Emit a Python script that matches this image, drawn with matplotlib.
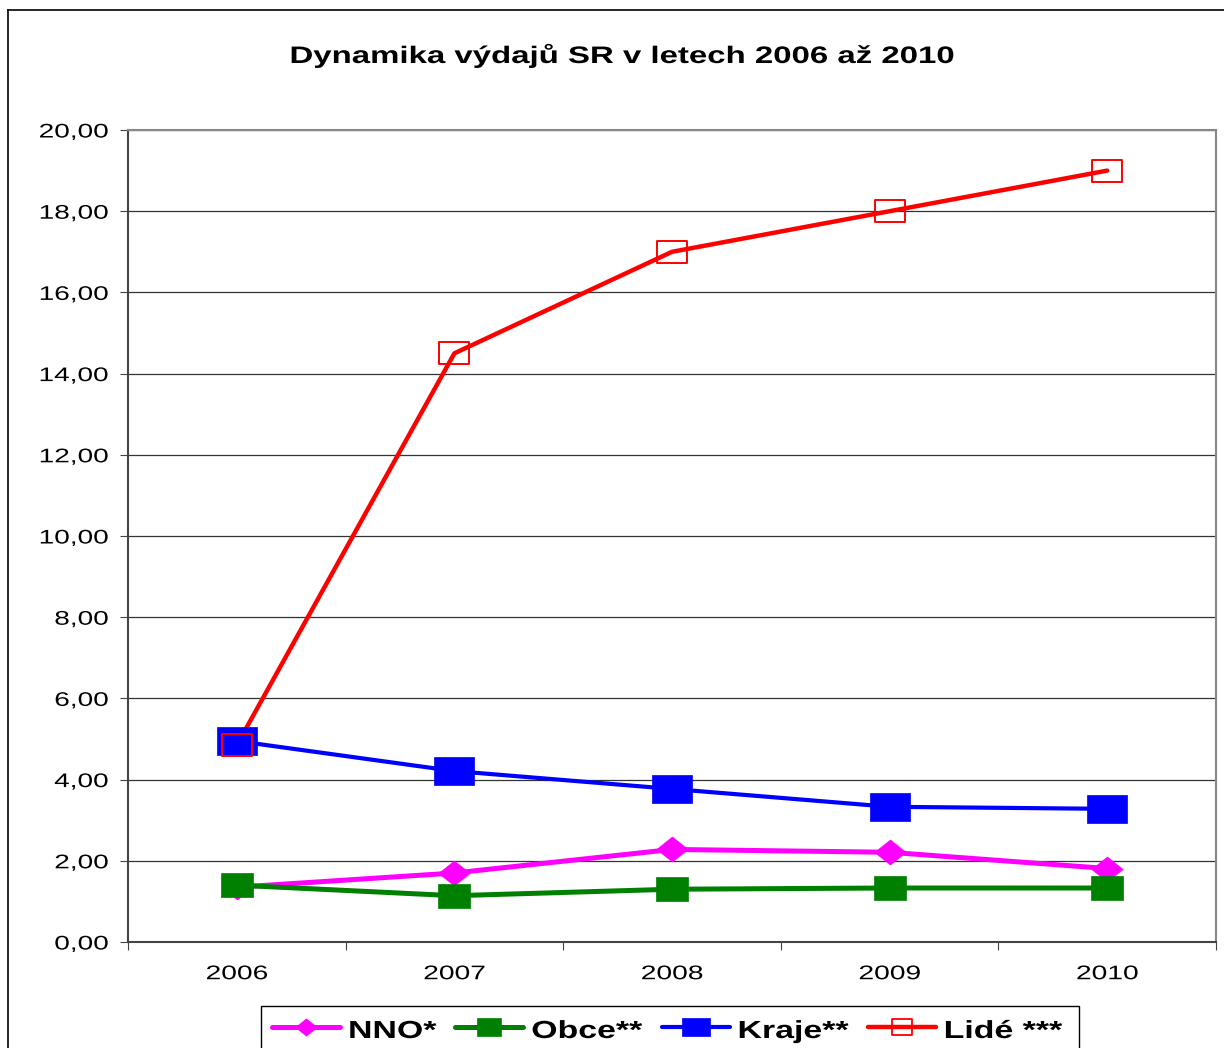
import matplotlib
matplotlib.use("Agg")
import matplotlib.pyplot as plt
from matplotlib.path import Path
from matplotlib.lines import Line2D
from matplotlib.patches import Rectangle
from matplotlib.patheffects import AbstractPathEffect
from matplotlib.transforms import Affine2D
import numpy as np

years = ["2006", "2007", "2008", "2009", "2010"]
nno = [1.35, 1.70, 2.28, 2.21, 1.81]
obce = [1.40, 1.14, 1.30, 1.33, 1.33]
kraje = [4.95, 4.21, 3.77, 3.33, 3.28]
lide = [4.85, 14.5, 17.0, 18.0, 19.0]
labels = ["NNO*", "Obce**", "Kraje**", "Lidé ***"]
title = "Dynamika výdajů SR v letech 2006 až 2010"

plt.rcParams['font.family'] = ['Liberation Sans', 'DejaVu Sans']


class HStretch(AbstractPathEffect):
    """Widen a text path horizontally about an anchor (text stays real text)."""
    def __init__(self, sx, anchor='center'):
        super().__init__()
        self.sx = sx
        self.anchor = anchor

    def draw_path(self, renderer, gc, tpath, affine, rgbFace=None):
        v = tpath.vertices
        if v is None or len(v) == 0:
            return
        tv = affine.transform(v)
        x0, x1 = tv[:, 0].min(), tv[:, 0].max()
        cx = {'center': 0.5 * (x0 + x1), 'left': x0, 'right': x1}[self.anchor]
        aff = affine + Affine2D().translate(-cx, 0).scale(self.sx, 1).translate(cx, 0)
        renderer.draw_path(gc, tpath, aff, rgbFace)


W, H = 1224, 1048
fig = plt.figure(figsize=(W / 100, H / 100), dpi=100)

# outer chart border (left and top visible)
fig.add_artist(Line2D([8 / W, 8 / W], [0, 1 - 10 / H], transform=fig.transFigure, color='black', lw=1.2))
fig.add_artist(Line2D([8 / W, 1], [1 - 10 / H, 1 - 10 / H], transform=fig.transFigure, color='black', lw=1.2))

ax = fig.add_axes([128 / W, 1 - 942 / H, (1216 - 128) / W, (942 - 130) / H])


def rect(w, h):
    return Path([(-w, -h), (w, -h), (w, h), (-w, h), (-w, -h)],
                [Path.MOVETO, Path.LINETO, Path.LINETO, Path.LINETO, Path.CLOSEPOLY])


diamond = Path([(0, -0.8), (1.0, 0), (0, 0.8), (-1.0, 0), (0, -0.8)],
               [Path.MOVETO, Path.LINETO, Path.LINETO, Path.LINETO, Path.CLOSEPOLY])

x = np.arange(len(years))
# name, values, colour, marker, size(pt), filled, linewidth, legend marker size
series = [
    (labels[0], nno, "#FF00FF", diamond, 22.5, True, 3.6, 15.5),
    (labels[1], obce, "#008000", rect(1.0, 0.73), 23.5, True, 3.6, 17.0),
    (labels[2], kraje, "#0000FF", rect(1.0, 0.68), 29.0, True, 3.0, 20.0),
    (labels[3], lide, "#FF0000", rect(1.0, 0.77), 21.0, False, 3.2, 15.0),
]

for name, vals, col, mk, ms, filled, lw, lms in series:
    ax.plot(x, vals, color=col, lw=lw, zorder=2, solid_capstyle='round')
for i, (name, vals, col, mk, ms, filled, lw, lms) in enumerate(series):
    ax.plot(x, vals, ls='none', marker=mk, markersize=ms,
            markerfacecolor=(col if filled else 'none'),
            markeredgecolor=col, markeredgewidth=(0.5 if filled else 1.4), zorder=3 + i)

ax.set_xlim(-0.5, 4.5)
ax.set_ylim(0, 20)
yt = np.arange(0, 21, 2)
ax.set_yticks(yt)
ax.set_yticklabels([f"{v:.2f}".replace('.', ',') for v in yt], fontsize=14.2)
ax.yaxis.grid(True, color='#333333', lw=0.9)
ax.set_axisbelow(True)

ax.set_xticks(np.arange(-0.5, 5, 1))
ax.set_xticklabels([])
ax.set_xticks(x, minor=True)
ax.set_xticklabels(years, minor=True, fontsize=14.2)
ax.tick_params(axis='x', which='minor', length=0, pad=16)
ax.tick_params(axis='x', which='major', length=6, direction='out', color='#444444')
ax.tick_params(axis='y', length=6, direction='out', color='#444444', pad=8)

for s in ['left', 'bottom']:
    ax.spines[s].set_color('#444444')
    ax.spines[s].set_linewidth(1.5)
for s in ['top', 'right']:
    ax.spines[s].set_color('#888888')
    ax.spines[s].set_linewidth(1.5)

for t in ax.get_yticklabels():
    t.set_path_effects([HStretch(1.42, 'right')])
for t in ax.get_xticklabels(minor=True):
    t.set_path_effects([HStretch(1.43, 'center')])

t_title = fig.text(622 / W, 1 - 63 / H, title, ha='center', va='baseline',
                   fontsize=17.2, fontweight='bold')
t_title.set_path_effects([HStretch(1.38, 'center')])

# legend (drawn as a boxed row of line+marker samples and labels)
renderer = fig.canvas.get_renderer()
leg_sx = 1.37
leg_fs = 17.8
ly = 1 - 1027 / H
lbase = 1 - 1038 / H
xpos = 272.0
handle_len = 68.0
for name, vals, col, mk, ms, filled, lw, lms in series:
    fig.add_artist(Line2D([xpos / W, (xpos + handle_len) / W], [ly, ly], transform=fig.transFigure,
                          color=col, lw=lw, solid_capstyle='round', zorder=5))
    fig.add_artist(Line2D([(xpos + handle_len / 2) / W], [ly], transform=fig.transFigure,
                          ls='none', marker=mk, markersize=lms,
                          markerfacecolor=(col if filled else 'none'), markeredgecolor=col,
                          markeredgewidth=(0.5 if filled else 1.3), zorder=6))
    tx = xpos + handle_len + 8
    t = fig.text(tx / W, lbase, name, ha='left', va='baseline', fontsize=leg_fs,
                 fontweight='bold', zorder=6)
    t.set_path_effects([HStretch(leg_sx, 'left')])
    wpx = t.get_window_extent(renderer).width * leg_sx
    xpos = tx + wpx + 19
box_right = xpos - 2
fig.add_artist(Rectangle((261 / W, -0.01), (box_right - 261) / W, (1 - 1006 / H) + 0.01,
                         transform=fig.transFigure, facecolor='white', edgecolor='black',
                         lw=1.0, zorder=4))

fig.savefig("out.png", dpi=100)
